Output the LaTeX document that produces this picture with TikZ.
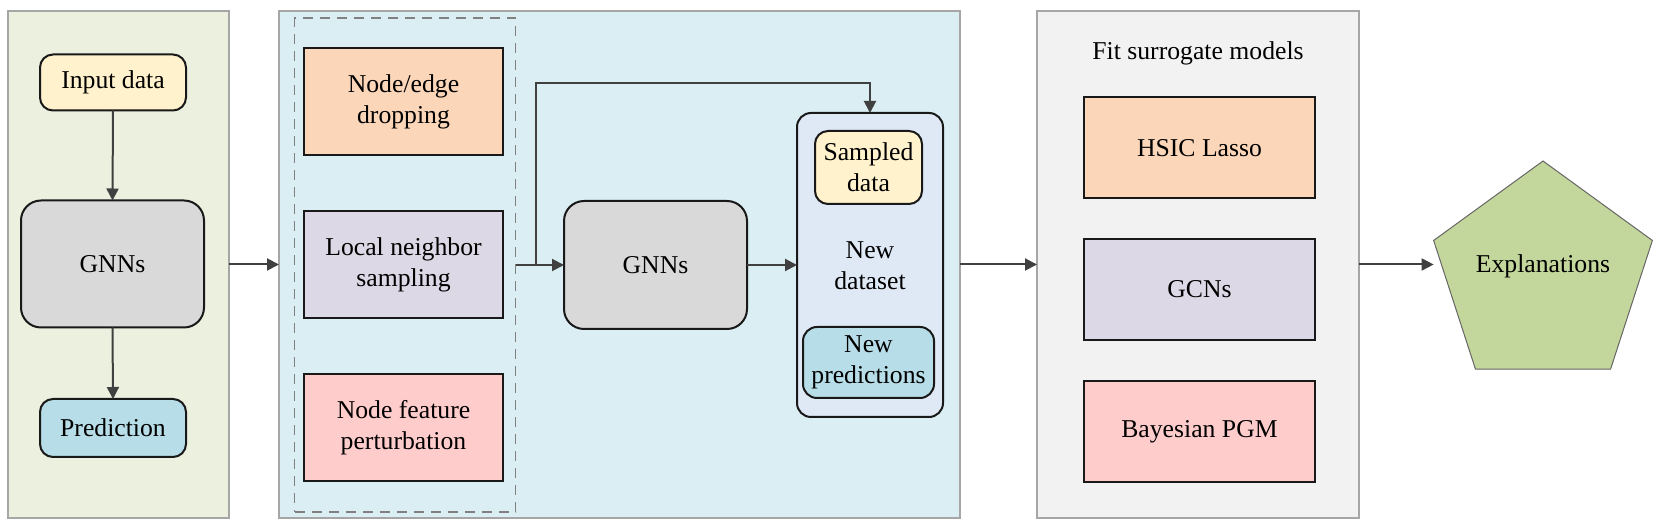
\documentclass[tikz,border=0pt]{standalone}
\usepackage{fontspec}
\setmainfont{Liberation Serif}
\usetikzlibrary{arrows.meta,shapes.geometric,calc}
\definecolor{pgreen}{HTML}{EBF1DE}
\definecolor{pblue}{HTML}{DAEEF3}
\definecolor{pgrey}{HTML}{F2F2F2}
\definecolor{pborder}{HTML}{A6A6A6}
\definecolor{cyellow}{HTML}{FFF2CC}
\definecolor{cgrey}{HTML}{D9D9D9}
\definecolor{ccyan}{HTML}{B7DEE8}
\definecolor{corange}{HTML}{FBD6B9}
\definecolor{cpurple}{HTML}{DDD8E5}
\definecolor{cpink}{HTML}{FFCCCC}
\definecolor{cds}{HTML}{DEE9F5}
\definecolor{cpent}{HTML}{C3D69B}
\definecolor{arrcol}{HTML}{404040}
\begin{document}
\begin{tikzpicture}[x=0.5pt,y=-0.5pt,
  every node/.style={font=\fontsize{12.85}{15.4}\selectfont, align=center, inner sep=0pt, outer sep=0pt},
  panel/.style={draw=pborder, line width=0.75pt, rectangle, minimum height=253.5pt},
  box/.style={draw=black!90, line width=1pt, rectangle},
  rbox/.style={box, rounded corners=6.5pt},
  bigr/.style={box, rounded corners=10pt},
  arr/.style={draw=arrcol, line width=1pt, -{Triangle[length=6pt,width=6pt]}},
  dashbox/.style={draw=black!50, line width=0.9pt, dash pattern=on 5pt off 3.5pt, rectangle},
  pentagon/.style={regular polygon, regular polygon sides=5, minimum size=115pt, fill=cpent, draw=black!60, line width=0.5pt}
]
\useasboundingbox (0,0) rectangle (1660,528);
% panels
\node[panel, fill=pgreen, minimum width=110.5pt] (lp) at (118.5,264.5) {};
\node[panel, fill=pblue, minimum width=340.5pt] (bp) at (619.5,264.5) {};
\node[panel, fill=pgrey, minimum width=161pt] (gp) at (1198,264.5) {};
% left panel
\node[rbox, fill=cyellow, minimum width=73pt, minimum height=28pt] (inp) at (113,82.5) {Input data};
\node[bigr, fill=cgrey, minimum width=91.5pt, minimum height=63.5pt] (gnn1) at (112.5,264) {GNNs};
\node[rbox, fill=ccyan, minimum width=73pt, minimum height=29pt] (pred) at (113,428) {Prediction};
% blue panel
\node[dashbox, minimum width=110.5pt, minimum height=247pt] (dash) at (405,265) {};
\node[box, fill=corange, minimum width=99.5pt, minimum height=53.5pt] (drop) at (403.5,102) {Node/edge\\dropping};
\node[box, fill=cpurple, minimum width=99.5pt, minimum height=53.5pt] (local) at (403.5,264.5) {Local neighbor\\sampling};
\node[box, fill=cpink, minimum width=99.5pt, minimum height=53.5pt] (feat) at (403.5,428) {Node feature\\perturbation};
\node[bigr, fill=cgrey, minimum width=91.5pt, minimum height=64pt] (gnn2) at (655.5,265) {GNNs};
\node[box, rounded corners=7pt, fill=cds, minimum width=73pt, minimum height=152pt] (newds) at (870,265) {};
\node (dslabel) at (870,266) {New\\dataset};
\node[rbox, fill=cyellow, minimum width=53.5pt, minimum height=36.5pt] (samp) at (868.5,167.5) {Sampled\\data};
\node[rbox, rounded corners=7pt, fill=ccyan, minimum width=65.5pt, minimum height=35.5pt] (newpred) at (868.5,362.5) {New\\predictions};
% grey panel
\node (fit) at (1198,53) {Fit surrogate models};
\node[box, fill=corange, minimum width=115.5pt, minimum height=50.5pt] (hsic) at (1199.5,148) {HSIC Lasso};
\node[box, fill=cpurple, minimum width=115.5pt, minimum height=50.5pt] (gcn) at (1199.5,289.5) {GCNs};
\node[box, fill=cpink, minimum width=115.5pt, minimum height=50.5pt] (bpgm) at (1199.5,431.5) {Bayesian PGM};
% pentagon
\node[pentagon] (pent) at (1543,276) {};
\node (expl) at (1543,266) {Explanations};
% arrows
\draw[arr] (inp.south) -- (gnn1.north);
\draw[arr] (gnn1.south) -- (pred.north);
\draw[arr] (lp.east) -- (lp.east -| bp.west);
\draw[arr] (dash.east |- 0,265) -- (gnn2.west |- 0,265);
\coordinate (br) at (536,265);
\coordinate (topy) at (536,83);
\draw[arr] (br) -- (topy) -- (topy -| newds.north) -- (newds.north);
\draw[arr] (gnn2.east |- 0,265) -- (newds.west |- 0,265);
\draw[arr] (bp.east) -- (bp.east -| gp.west);
\draw[arr] (gp.east) -- (gp.east -| pent.corner 2);
\end{tikzpicture}
\end{document}
